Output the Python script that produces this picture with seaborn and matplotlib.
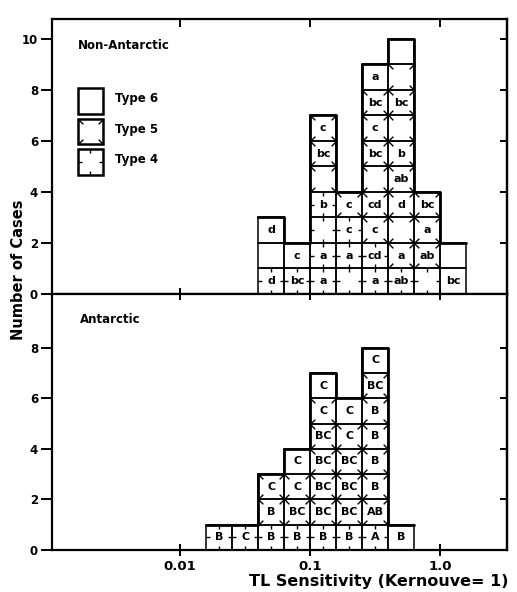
import numpy as np
import pandas as pd
import matplotlib
matplotlib.use("Agg")
import matplotlib.pyplot as plt
from matplotlib.path import Path
from matplotlib.patches import Rectangle
import seaborn as sns

sns.set_style("ticks")
plt.rcParams["font.family"] = ["DejaVu Sans"]
plt.rcParams["font.weight"] = "bold"
for key in ("text.color", "axes.labelcolor", "xtick.color", "ytick.color",
            "axes.edgecolor"):
    plt.rcParams[key] = "black"

BIN_W = 0.2  # histogram bin width, log10 units

# Non-Antarctic: left bin edges (log10 sensitivity); stacks listed bottom -> top
top_edges = [-1.4, -1.2, -1.0, -0.8, -0.6, -0.4, -0.2, 0.0]
top_labels = [
    ["d", "", "d"],
    ["bc", "c"],
    ["a", "a", "", "b", "", "bc", "c"],
    ["", "a", "c", "c"],
    ["a", "cd", "c", "cd", "", "bc", "c", "bc", "a"],
    ["ab", "a", "", "d", "ab", "b", "", "bc", "", ""],
    ["", "ab", "a", "bc"],
    ["bc", ""],
]
top_types = [
    [4, 6, 6],
    [4, 6],
    [4, 4, 4, 4, 5, 5, 5],
    [4, 4, 4, 5],
    [4, 4, 5, 5, 5, 5, 5, 5, 6],
    [4, 5, 5, 5, 5, 5, 5, 5, 5, 6],
    [4, 5, 5, 5],
    [6, 6],
]

# Antarctic
bot_edges = [-1.8, -1.6, -1.4, -1.2, -1.0, -0.8, -0.6, -0.4]
bot_labels = [
    ["B"],
    ["C"],
    ["B", "B", "C"],
    ["B", "BC", "C", "C"],
    ["B", "BC", "BC", "BC", "BC", "C", "C"],
    ["B", "BC", "BC", "BC", "C", "C"],
    ["A", "AB", "B", "B", "B", "B", "BC", "C"],
    ["B"],
]
bot_types = [
    [4],
    [4],
    [4, 5, 5],
    [4, 5, 5, 6],
    [4, 5, 5, 5, 5, 5, 6],
    [4, 5, 5, 5, 5, 6],
    [4, 5, 5, 5, 5, 5, 5, 6],
    [6],
]

type_names = {6: "Type 6", 5: "Type 5", 4: "Type 4"}
x_ticks = [0.01, 0.1, 1.0]
x_ticklabels = ["0.01", "0.1", "1.0"]
top_yticks = [0, 2, 4, 6, 8, 10]
bot_yticks = [0, 2, 4, 6, 8]


def case_table(edges, labels, types):
    rows = []
    for e, labs, typs in zip(edges, labels, types):
        for r, (lab, t) in enumerate(zip(labs, typs)):
            rows.append(dict(sens=10 ** (e + BIN_W / 2), lo=10 ** e,
                             hi=10 ** (e + BIN_W), row=r, label=lab, type=t))
    return pd.DataFrame(rows)


def seg(dx, dy):
    return Path([(0, 0), (dx, dy)], [Path.MOVETO, Path.LINETO])


MID_UP, MID_DOWN, MID_RIGHT, MID_LEFT = seg(0, 1), seg(0, -1), seg(1, 0), seg(-1, 0)
C_BL, C_BR, C_TL, C_TR = seg(1, 1), seg(-1, 1), seg(1, -1), seg(-1, -1)
MK = dict(ls="none", mfc="none", mec="k", color="k", mew=1.0)


def type_marks(ax, t, lo, hi, mid, y0, y1, ym, **kw):
    if t == 4:
        ax.plot(mid, y0, marker=MID_UP, ms=6, **MK, **kw)
        ax.plot(mid, y1, marker=MID_DOWN, ms=6, **MK, **kw)
        ax.plot(lo, ym, marker=MID_RIGHT, ms=6, **MK, **kw)
        ax.plot(hi, ym, marker=MID_LEFT, ms=6, **MK, **kw)
    elif t == 5:
        ax.plot(lo, y0, marker=C_BL, ms=7, **MK, **kw)
        ax.plot(hi, y0, marker=C_BR, ms=7, **MK, **kw)
        ax.plot(lo, y1, marker=C_TL, ms=7, **MK, **kw)
        ax.plot(hi, y1, marker=C_TR, ms=7, **MK, **kw)


def draw_panel(ax, df, lo_edge, hi_edge):
    ax.bar(df["lo"], 1, width=df["hi"] - df["lo"], bottom=df["row"], align="edge",
           fill=False, edgecolor="k", linewidth=1.1)
    sns.histplot(data=df, x="sens", log_scale=True, binwidth=BIN_W,
                 binrange=(lo_edge, hi_edge), element="step", fill=False,
                 color="k", linewidth=2.0, ax=ax)
    for _, c in df.iterrows():
        type_marks(ax, c["type"], c["lo"], c["hi"], c["sens"], c["row"],
                   c["row"] + 1, c["row"] + 0.5)
        if c["label"]:
            ax.text(c["sens"], c["row"] + 0.5, c["label"], ha="center",
                    va="center", fontsize=8, fontweight="bold")
    ax.set_xlabel("")
    ax.set_ylabel("")


top_df = case_table(top_edges, top_labels, top_types)
bot_df = case_table(bot_edges, bot_labels, bot_types)

fig = plt.figure(figsize=(5.17, 5.92), dpi=100)
ax_top = fig.add_axes([0.1006, 0.5034, 0.8801, 0.4645])
ax_bot = fig.add_axes([0.1006, 0.0709, 0.8801, 0.4325], sharex=ax_top)

draw_panel(ax_top, top_df, top_edges[0], top_edges[-1] + BIN_W)
draw_panel(ax_bot, bot_df, bot_edges[0], bot_edges[-1] + BIN_W)

for ax, yt, ytop in ((ax_top, top_yticks, 10.78), (ax_bot, bot_yticks, 10.12)):
    ax.set_xscale("log")
    ax.set_xlim(10 ** -2.985, 10 ** 0.515)
    ax.set_xticks(x_ticks)
    ax.xaxis.set_minor_locator(matplotlib.ticker.NullLocator())
    ax.set_ylim(0, ytop)
    ax.set_yticks(yt)
    for s in ax.spines.values():
        s.set_visible(True)
        s.set_linewidth(1.6)
        s.set_edgecolor("k")
    ax.tick_params(axis="y", which="both", left=True, right=False, direction="out",
                   length=8, width=1.4, labelsize=8.5, pad=2, colors="k")
    ax.grid(False)
    right = ax.secondary_yaxis("right")
    right.set_yticks(yt)
    right.tick_params(axis="y", direction="in", length=5, width=1.4,
                      labelright=False, colors="k")
    right.spines["right"].set_linewidth(1.6)
    right.spines["right"].set_edgecolor("k")

ax_top.tick_params(axis="x", top=True, bottom=False, direction="in", length=6,
                   width=1.4, labelbottom=False, colors="k")
ax_bot.tick_params(axis="x", top=True, bottom=True, direction="inout", length=9,
                   width=1.4, labelsize=9.5, pad=3, colors="k")
ax_bot.set_xticklabels(x_ticklabels)
for lab in ax_bot.get_xticklabels() + ax_bot.get_yticklabels() + ax_top.get_yticklabels():
    lab.set_fontweight("bold")

ax_top.text(0.057, 0.905, "Non-Antarctic", transform=ax_top.transAxes,
            fontsize=8.5, fontweight="bold", va="center")
ax_bot.text(0.0615, 0.902, "Antarctic", transform=ax_bot.transAxes,
            fontsize=8.5, fontweight="bold", va="center")

# key of cell types
bw, bh = 0.055, 0.094
kx = 0.0565
for i, t in enumerate([6, 5, 4]):
    ky = 0.655 - i * 0.111
    ax_top.add_patch(Rectangle((kx, ky), bw, bh, transform=ax_top.transAxes,
                               fill=False, lw=1.8, ec="k"))
    type_marks(ax_top, t, kx, kx + bw, kx + bw / 2, ky, ky + bh, ky + bh / 2,
               transform=ax_top.transAxes)
    ax_top.text(0.1385, ky + bh / 2 + 0.008, type_names[t],
                transform=ax_top.transAxes, fontsize=8.5, fontweight="bold",
                va="center")

fig.text(0.035, 0.544, "Number of Cases", rotation=90, ha="center", va="center",
         fontsize=10.5, fontweight="bold")
fig.text(0.733, 0.017, "TL Sensitivity (Kernouve= 1)", ha="center", va="center",
         fontsize=11.5, fontweight="bold")

fig.savefig("out.png", dpi=100)
